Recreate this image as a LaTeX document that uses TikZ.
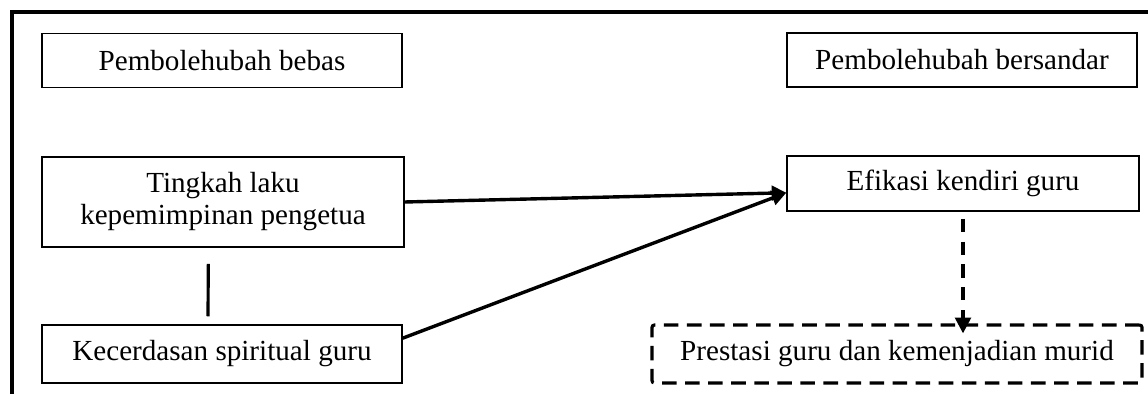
\documentclass[tikz,border=0pt]{standalone}
\usepackage{fontspec}
\setmainfont{Liberation Serif}
\usetikzlibrary{arrows.meta}

\begin{document}
\begin{tikzpicture}[x=0.412pt, y=-0.412pt,
    kotak/.style={draw, line width=0.6pt, inner sep=0pt, align=center,
      font=\fontsize{12}{13.2}\selectfont},
    kotakputus/.style={kotak, line width=1.3pt, dash pattern=on 6pt off 3.5pt,
      rounded corners=1pt},
    anak/.style={line width=1.4pt, -{Triangle[length=6pt,width=6pt]}},
    anakputus/.style={line width=1.3pt, dash pattern=on 5.4pt off 4pt,
      -{Triangle[length=6.5pt,width=6.5pt]}}]
  \useasboundingbox (0,0) rectangle (1148,394);
  % Bingkai luar
  \draw[line width=1.6pt] (12,394) -- (12,12) -- (1148,12);
  % Tajuk
  \node[kotak, minimum width=148.3pt, minimum height=22.2pt] (bebas) at (222,60.5) {Pembolehubah bebas};
  \node[kotak, minimum width=144.2pt, minimum height=22.2pt] (bersandar) at (962,60) {Pembolehubah bersandar};
  % Pembolehubah
  \node[kotak, minimum width=149.1pt, minimum height=37.1pt] (tingkah) at (223,202) {Tingkah laku\\kepemimpinan pengetua};
  \node[kotak, minimum width=148.3pt, minimum height=23.9pt] (kecerdasan) at (222,354) {Kecerdasan spiritual guru};
  \node[kotak, minimum width=145pt, minimum height=22.7pt] (efikasi) at (963,183.5) {Efikasi kendiri guru};
  \node[kotakputus, minimum width=201.9pt, minimum height=23.9pt] (prestasi) at (897,354) {Prestasi guru dan kemenjadian murid};
  % Hubungan
  \draw[line width=1.3pt, shorten <=6.6pt, shorten >=3.3pt]
    ([xshift=-6pt]tingkah.south) -- ([xshift=-5.8pt]kecerdasan.north);
  \draw[anak] (tingkah.east) -- (efikasi.183);
  \draw[anak] (kecerdasan.5) -- (efikasi.183);
  \draw[anakputus, shorten <=2.9pt, shorten >=-4.1pt] (efikasi.south) -- (prestasi.north -| efikasi.south);
\end{tikzpicture}
\end{document}
